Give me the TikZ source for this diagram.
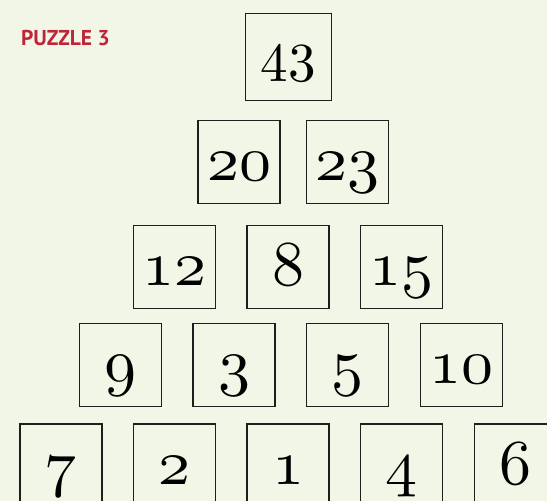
\documentclass[tikz,border=0pt]{standalone}
\usepackage{fontspec}
\newfontfamily\titlefont{PT Sans}
\newfontfamily\liningfont{lmroman10-regular}[Extension=.otf]
\DeclareFontFamily{OML}{oscm}{\skewchar\font'177}
\DeclareFontShape{OML}{oscm}{m}{it}{<-> cmmi10}{}
\definecolor{bgc}{RGB}{242,246,230}
\definecolor{titlered}{RGB}{190,38,56}
\definecolor{edge}{RGB}{30,30,30}
\newcommand{\osf}{\fontencoding{OML}\fontfamily{oscm}\fontseries{m}\fontshape{it}\fontsize{64}{70}\selectfont}
\newcommand{\lnf}{\liningfont\fontsize{55}{60}\selectfont}
\begin{document}
\begin{tikzpicture}[x=1pt,y=-1pt,
  numbox/.style={draw=edge, line width=1.1pt, fill=bgc, rectangle, inner sep=0pt,
    minimum width=82pt, text height=60pt, text depth=22.8pt, align=center, font=\osf},
  topbox/.style={draw=edge, line width=1.1pt, fill=bgc, rectangle, inner sep=0pt,
    minimum width=86pt, text height=68.4pt, text depth=19pt, align=center,
    font=\lnf}]
\fill[bgc] (0,0) rectangle (547,501);
\useasboundingbox (0,0) rectangle (547,501);
\clip (0,0) rectangle (547,501);
\node[anchor=base west, text=titlered, inner sep=0pt,
  font=\titlefont\bfseries\fontsize{21.5}{24}\selectfont] (title) at (21,45) {PUZZLE 3};
% row 1
\node[topbox] (r1a) at (288.3,57.0) {43};
% row 2
\node[numbox] (r2a) at (239.0,162.0) {20};
\node[numbox] (r2b) at (347.2,162.0) {23};
% row 3
\node[numbox] (r3a) at (174.9,267.0) {12};
\node[numbox] (r3b) at (288.0,267.0) {8};
\node[numbox] (r3c) at (401.5,267.0) {15};
% row 4
\node[numbox] (r4a) at (120.2,364.7) {9};
\node[numbox] (r4b) at (234.0,364.7) {3};
\node[numbox] (r4c) at (347.3,364.7) {5};
\node[numbox] (r4d) at (461.7,364.7) {10};
% row 5
\node[numbox] (r5a) at (61.0,465.4) {7};
\node[numbox] (r5b) at (174.5,465.4) {2};
\node[numbox] (r5c) at (288.0,465.4) {1};
\node[numbox] (r5d) at (401.6,465.4) {4};
\node[numbox] (r5e) at (515.3,465.4) {6};
\end{tikzpicture}
\end{document}
